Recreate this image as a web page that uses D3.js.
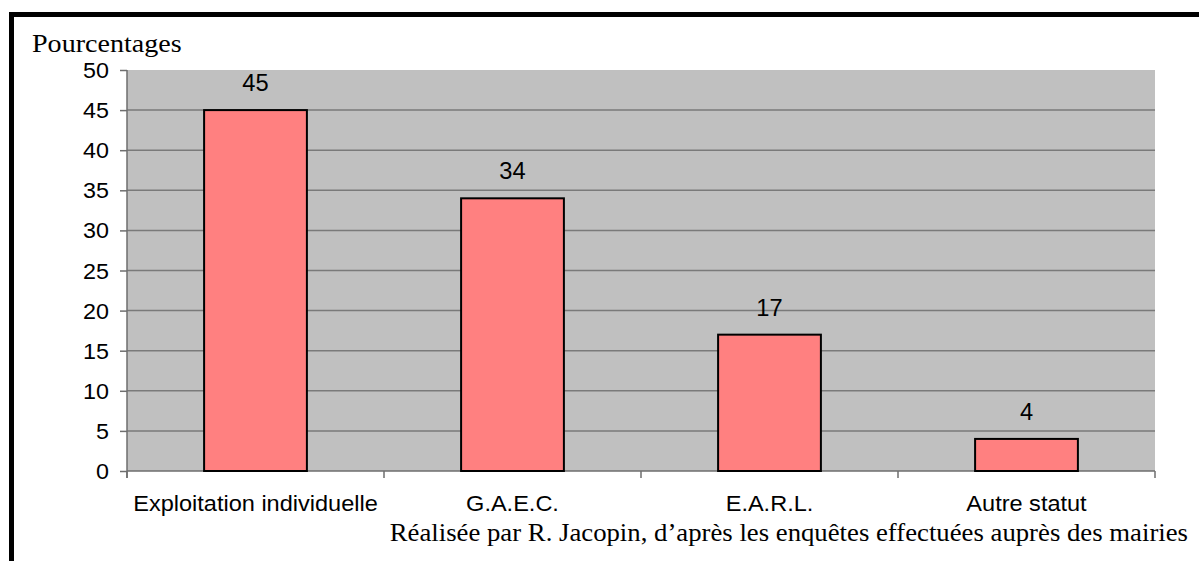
<!DOCTYPE html>
<html>
<head>
<meta charset="utf-8">
<script src="https://cdn.jsdelivr.net/npm/d3@7"></script>
<style>
  html, body { margin: 0; padding: 0; background: #ffffff; }
  svg { display: block; }
</style>
</head>
<body>
<script>
// ---- Data ----
const categories = ["Exploitation individuelle", "G.A.E.C.", "E.A.R.L.", "Autre statut"];
const values = [45, 34, 17, 4];
const yTicks = [0, 5, 10, 15, 20, 25, 30, 35, 40, 45, 50];
const yTitle = "Pourcentages";
const sourceNote = "Réalisée par R. Jacopin, d’après les enquêtes effectuées auprès des mairies";

// ---- Layout ----
const W = 1201, H = 561;
const plot = { left: 127, right: 1155, top: 70, bottom: 471 };
const SANS = "'Liberation Sans', Arial, sans-serif";
const SERIF = "'Liberation Serif', 'Times New Roman', serif";

const svg = d3.select("body").append("svg").attr("width", W).attr("height", H);

// frame (thick black top and left border)
svg.append("rect").attr("x", 9).attr("y", 12).attr("width", 1190).attr("height", 5).attr("fill", "#000");
svg.append("rect").attr("x", 9).attr("y", 12).attr("width", 5).attr("height", H - 12).attr("fill", "#000");

const x = d3.scaleBand().domain(categories).range([plot.left, plot.right]).padding(0);
const y = d3.scaleLinear().domain([0, 50]).range([plot.bottom, plot.top]);

// plot background
svg.append("rect")
  .attr("x", plot.left).attr("y", plot.top)
  .attr("width", plot.right - plot.left).attr("height", plot.bottom - plot.top)
  .attr("fill", "#c0c0c0");

// gridlines
svg.append("g").selectAll("line")
  .data(yTicks.filter(d => d > 0 && d < 50))
  .join("line")
  .attr("x1", plot.left).attr("x2", plot.right)
  .attr("y1", d => y(d)).attr("y2", d => y(d))
  .attr("stroke", "#7a7a7a").attr("stroke-width", 1.5);

function stretchedText(parent, tx, ty, str, opts) {
  const g = parent.append("g").attr("transform", `translate(${tx},${ty})`);
  return g.append("text")
    .attr("transform", `scale(${opts.sx},1)`)
    .attr("text-anchor", opts.anchor || "start")
    .style("font-family", opts.family)
    .style("font-size", opts.size + "px")
    .attr("fill", "#000")
    .text(str);
}

// y axis ticks
const yAxis = svg.append("g").attr("transform", `translate(${plot.left},0)`)
  .call(d3.axisLeft(y).tickValues(yTicks).tickSize(7).tickFormat(""));
yAxis.select(".domain").remove();
yAxis.selectAll("line").attr("stroke", "#6e6e6e").attr("stroke-width", 1.5);
svg.append("line").attr("x1", plot.left).attr("x2", plot.left)
  .attr("y1", plot.top).attr("y2", plot.bottom + 7)
  .attr("stroke", "#6e6e6e").attr("stroke-width", 1.5);
yTicks.forEach(t => {
  stretchedText(svg, 109, y(t) + 8, String(t), { anchor: "end", family: SANS, size: 22, sx: 1.06 });
});

// x axis baseline and ticks at category boundaries
svg.append("line").attr("x1", plot.left).attr("x2", plot.right)
  .attr("y1", plot.bottom).attr("y2", plot.bottom)
  .attr("stroke", "#6e6e6e").attr("stroke-width", 1.5);
const bounds = categories.map(c => x(c)).concat([x(categories[categories.length - 1]) + x.bandwidth()]);
svg.append("g").selectAll("line").data(bounds).join("line")
  .attr("x1", d => d).attr("x2", d => d)
  .attr("y1", plot.bottom).attr("y2", plot.bottom + 7)
  .attr("stroke", "#6e6e6e").attr("stroke-width", 1.5);

// bars
const bw = x.bandwidth() * 0.4;
svg.append("g").selectAll("rect").data(values).join("rect")
  .attr("x", (d, i) => x(categories[i]) + (x.bandwidth() - bw) / 2)
  .attr("y", d => y(d))
  .attr("width", bw)
  .attr("height", d => y(0) - y(d))
  .attr("fill", "#ff8080")
  .attr("stroke", "#000")
  .attr("stroke-width", 2);

// value labels
values.forEach((v, i) => {
  stretchedText(svg, x(categories[i]) + x.bandwidth() / 2, y(v) - 19, String(v),
    { anchor: "middle", family: SANS, size: 23, sx: 1.03 });
});

// category labels
categories.forEach(c => {
  stretchedText(svg, x(c) + x.bandwidth() / 2, 511, c,
    { anchor: "middle", family: SANS, size: 22, sx: 1.07 });
});

// y title
stretchedText(svg, 32, 52, yTitle, { anchor: "start", family: SERIF, size: 26, sx: 1.08 });

// source note
stretchedText(svg, 1188, 541, sourceNote, { anchor: "end", family: SERIF, size: 25, sx: 1.07 });
</script>
</body>
</html>
